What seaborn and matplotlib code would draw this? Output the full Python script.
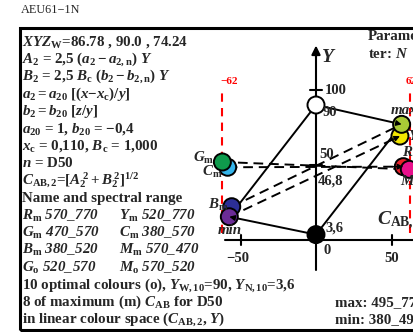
import matplotlib
matplotlib.use("Agg")
import numpy as np
import pandas as pd
import matplotlib.pyplot as plt
import seaborn as sns
from matplotlib.patches import Rectangle

# colour points in (C_AB,2 , Y)
names = ["Cm", "Gm", "Bm", "min", "Ym", "max", "Rm", "Mm"]
cab = [-58.5, -62.0, -55.8, -57.4, 55.6, 56.7, 57.8, 61.8]
lum = [48.5, 52.0, 22.2, 15.5, 69.3, 77.1, 48.9, 47.1]
colours = ["#35b4ea", "#0f9a4c", "#2c2f96", "#6b2c96", "#f2e600", "#a9c936", "#e8212b", "#e8108c"]

# white and black point
wn_names = ["W", "N"]
wn_cab = [0.0, 0.0]
wn_lum = [90.0, 3.6]
wn_colours = ["white", "black"]

centre_lum = 46.8
red_lim = [-62, 62]
x_ticks = [-50, 0, 50]
y_ticks = [50, 100]

solid_pairs = [("W", "max"), ("W", "min"), ("N", "min"), ("N", "max")]
dashed_pairs = [("Gm", "Mm"), ("Cm", "Rm"), ("Bm", "max"), ("min", "Ym")]
head_pairs = [("W", "max"), ("N", "min"), ("min", "Ym"), ("Cm", "Rm")]

left_lines = [
    r"$XYZ_{\rm W}$=86.78 , 90.0 , 74.24",
    r"$A_2$ = 2,5 ($a_2 - a_{2,\rm n}$) $Y$",
    r"$B_2$ = 2,5 $B_{\rm c}$ ($b_2 - b_{2,\rm n}$) $Y$",
    r"$a_2 = a_{20}$ [($x$−$x_{\rm c}$)/$y$]",
    r"$b_2 = b_{20}$ [$z$/$y$]",
    r"$a_{20}$ = 1, $b_{20}$ = −0,4",
    r"$x_{\rm c}$ = 0,110, $B_{\rm c}$ = 1,000",
    r"$n$ = D50",
    r"$C_{\rm AB,2}$=$[A_2^{\,2}+B_2^{\,2}]^{1/2}$",
    "Name and spectral range",
    (r"$R_{\rm m}$ 570_770", r"$Y_{\rm m}$ 520_770"),
    (r"$G_{\rm m}$ 470_570", r"$C_{\rm m}$ 380_570"),
    (r"$B_{\rm m}$ 380_520", r"$M_{\rm m}$ 570_470"),
    (r"$G_{\rm o}$ 520_570", r"$M_{\rm o}$ 570_520"),
    r"10 optimal colours (o), $Y_{\rm W,10}$=90, $Y_{\rm N,10}$=3,6",
    r"8 of maximum (m) $C_{\rm AB}$ for D50",
    r"in linear colour space ($C_{\rm AB,2}$, $Y$)",
]

sns.set_theme(style="white")
plt.rcParams["font.family"] = ["Liberation Serif", "DejaVu Serif"]
plt.rcParams["font.weight"] = "bold"
plt.rcParams["mathtext.fontset"] = "custom"
plt.rcParams["mathtext.rm"] = "Liberation Serif:bold"
plt.rcParams["mathtext.it"] = "Liberation Serif:italic:bold"
plt.rcParams["mathtext.bf"] = "Liberation Serif:bold"

W, H = 413, 332
fig = plt.figure(figsize=(W / 100, H / 100), dpi=100)
ax = fig.add_axes([0, 0, 1, 1])
# pixel mapping: x_px = 316 + 1.51*C, y_px = 240 - 1.5*Y
ax.set_xlim(-316 / 1.51, (W - 316) / 1.51)
ax.set_ylim((240 - H) / 1.5, 240 / 1.5)
ax.axis("off")


def px(x, y):
    return x / W, 1 - y / H


df = pd.DataFrame({"name": names, "cab": cab, "Y": lum})
wn = pd.DataFrame({"name": wn_names, "cab": wn_cab, "Y": wn_lum})
pos = {n: (c, y) for n, c, y in zip(names + wn_names, cab + wn_cab, lum + wn_lum)}

# frame
fig.patches.append(Rectangle(px(20, 330), 1.2, (330 - 28) / H, transform=fig.transFigure,
                             fill=False, lw=2.2, ec="black"))

# axes
ax.plot([0, 0], [-20, 126], color="black", lw=1.5, zorder=1)
ax.annotate("", xy=(0, 131.5), xytext=(0, 120),
            arrowprops=dict(arrowstyle="-|>", color="black", lw=1.5, mutation_scale=13))
ax.plot([-60.3, 70], [0, 0], color="black", lw=1.5, zorder=1)
for t in x_ticks:
    if t != 0:
        ax.plot([t, t], [-3.5, 3.5], color="black", lw=1.5)
for t in y_ticks:
    ax.plot([-4, 4], [t, t], color="black", lw=1.5)

# red limits
for r in red_lim:
    ax.plot([r, r], [5, 100], color="red", lw=1.5, ls=(0, (4, 3)), zorder=1)

# connecting lines
for a, b in solid_pairs:
    ax.plot([pos[a][0], pos[b][0]], [pos[a][1], pos[b][1]], color="black", lw=1.4, zorder=2)
for a, b in dashed_pairs:
    ax.plot([pos[a][0], pos[b][0]], [pos[a][1], pos[b][1]], color="black", lw=1.4,
            ls=(0, (5, 3)), zorder=2)

sns.scatterplot(data=wn, x="cab", y="Y", hue="name", palette=dict(zip(wn_names, wn_colours)),
                s=150, edgecolor="black", linewidth=1.4, legend=False, zorder=3, ax=ax)
sns.scatterplot(data=df, x="cab", y="Y", hue="name", palette=dict(zip(names, colours)),
                s=150, edgecolor="black", linewidth=1.4, legend=False, zorder=3, ax=ax)

for a, b in head_pairs:
    x0, y0 = pos[a]
    x1, y1 = pos[b]
    ax.annotate("", xy=(x1, y1), xytext=(x1 - 0.06 * (x1 - x0), y1 - 0.06 * (y1 - y0)),
                arrowprops=dict(arrowstyle="-|>", color="black", lw=1, mutation_scale=8,
                                shrinkA=0, shrinkB=0), zorder=4)

# texts
fs = 10.8
fig.text(*px(21, 10), "AEU61−1N", fontsize=8.8, fontweight="normal", va="center")
for i, line in enumerate(left_lines):
    y = 42 + i * 17.35
    if isinstance(line, tuple):
        fig.text(*px(22, y), line[0], fontsize=fs, style="italic", va="center")
        fig.text(*px(119, y), line[1], fontsize=fs, style="italic", va="center")
    else:
        fig.text(*px(22, y), line, fontsize=fs, va="center")

fig.text(*px(368, 37), "Parame", fontsize=fs, va="center")
fig.text(*px(368, 54), r"ter: $N$", fontsize=fs, va="center")
fig.text(*px(335, 302.6), "max: 495_770", fontsize=fs, va="center")
fig.text(*px(335, 320), "min: 380_495", fontsize=fs, va="center")

fig.text(*px(329, 57), r"$Y$", fontsize=14, va="center", ha="center")
fig.text(*px(377, 221), r"$C_{\rm AB,2}$", fontsize=14, va="center")
fig.text(*px(325, 90), "100", fontsize=10.5, va="center")
fig.text(*px(323, 113), "90", fontsize=10.5, va="center")
fig.text(*px(319, 155), "50", fontsize=10.5, va="center")
fig.text(*px(318, 181), "46,8", fontsize=10.5, va="center")
fig.text(*px(325, 228), "3,6", fontsize=10.5, va="center")
fig.text(*px(238, 258), "−50", fontsize=10.5, va="center", ha="center")
fig.text(*px(327, 251), "0", fontsize=10.5, va="center", ha="center")
fig.text(*px(392, 258), "50", fontsize=10.5, va="center", ha="center")
fig.text(*px(229, 82), "−62", fontsize=8, color="red", va="center", ha="center")
fig.text(*px(406, 82), "62", fontsize=8, color="red", va="center", ha="left")

fig.text(*px(214, 158), r"$G_{\rm m}$", fontsize=fs, va="center", ha="right")
fig.text(*px(222, 172), r"$C_{\rm m}$", fontsize=fs, va="center", ha="right")
fig.text(*px(229, 205), r"$B_{\rm m}$", fontsize=fs, va="center", ha="right")
fig.text(*px(230, 231), "min", fontsize=fs, style="italic", va="center", ha="center")
fig.text(*px(391, 110), "max", fontsize=fs, style="italic", va="center")
fig.text(*px(408, 137), r"$Y_{\rm m}$", fontsize=fs, va="center")
fig.text(*px(402, 153), r"$R_{\rm m}$", fontsize=fs, va="center")
fig.text(*px(400, 182), r"$M_{\rm m}$", fontsize=fs, va="center")

fig.savefig("out.png", dpi=100)
